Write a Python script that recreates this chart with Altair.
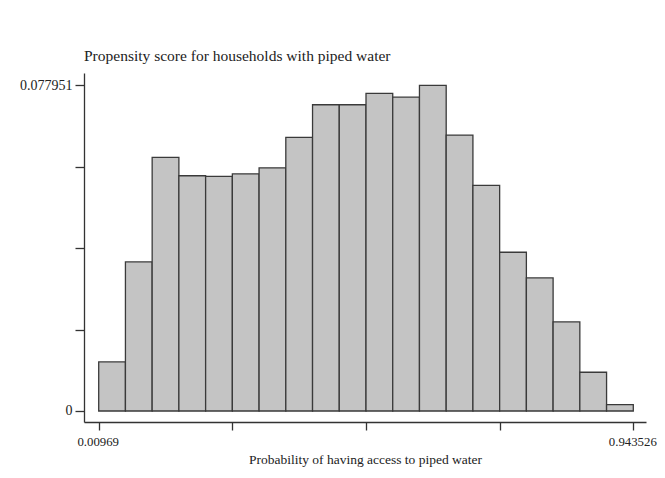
import altair as alt
import pandas as pd

# Histogram of propensity scores (fraction per bin), 20 bins
x_min = 0.00969
x_max = 0.943526
fractions = [0.01174, 0.03569, 0.0607, 0.0563, 0.05615, 0.05677, 0.0582, 0.0655,
             0.0733, 0.0733, 0.0760, 0.0751, 0.077951, 0.06604, 0.0540, 0.0380,
             0.03186, 0.02132, 0.00927, 0.00153]
x_ticks = [0.00969, 0.243149, 0.476608, 0.710067, 0.943526]
y_ticks = [0.0, 0.01948775, 0.0389755, 0.05846325, 0.077951]

n = len(fractions)
w = (x_max - x_min) / n
df = pd.DataFrame({
    "start": [x_min + i * w for i in range(n)],
    "end": [x_min + (i + 1) * w for i in range(n)],
    "frac": fractions,
})

FONT = "Liberation Serif"

bars = alt.Chart(df).mark_rect(
    fill="#c4c4c4", stroke="#3a3a3a", strokeWidth=1.3
).encode(
    x=alt.X("start:Q",
            scale=alt.Scale(domain=[-0.01599, 0.96571], nice=False, zero=False),
            axis=alt.Axis(values=x_ticks, grid=False, tickSize=8, labelPadding=5,
                          labelFlush=False, labelOverlap=False, labelFontSize=12.8,
                          labelOffset=-1,
                          labelExpr="datum.value < 0.1 ? '0.00969' : (datum.value > 0.9 ? '0.943526' : '')",
                          title="Probability of having access to piped water",
                          titleFontSize=13.5, titlePadding=5)),
    x2="end:Q",
    y=alt.Y("frac:Q",
            scale=alt.Scale(domain=[-0.002635, 0.080898], nice=False, zero=False),
            axis=alt.Axis(values=y_ticks, grid=False, tickSize=9, labelPadding=3,
                          labelFlush=False, labelOverlap=False, labelFontSize=14,
                          labelExpr="datum.value == 0 ? '0' : (datum.value > 0.07 ? '0.077951' : '')",
                          title=None)),
    y2=alt.datum(0),
)

chart = bars.properties(
    width=562, height=349,
    title=alt.TitleParams("Propensity score for households with piped water",
                          anchor="start", frame="group", font=FONT, fontSize=15.5,
                          fontWeight="normal", color="#222222", offset=9),
    autosize="none",
    padding={"left": 76, "top": 65, "right": 11, "bottom": 48},
).configure_view(stroke=None).configure_axis(
    domainColor="#333333", domainWidth=1.3, tickColor="#333333", tickWidth=1.3,
    labelFont=FONT, labelColor="#222222",
    titleFont=FONT, titleFontWeight="normal", titleColor="#222222",
)

chart.save("out.html", embed_options={"renderer": "svg", "actions": False})
